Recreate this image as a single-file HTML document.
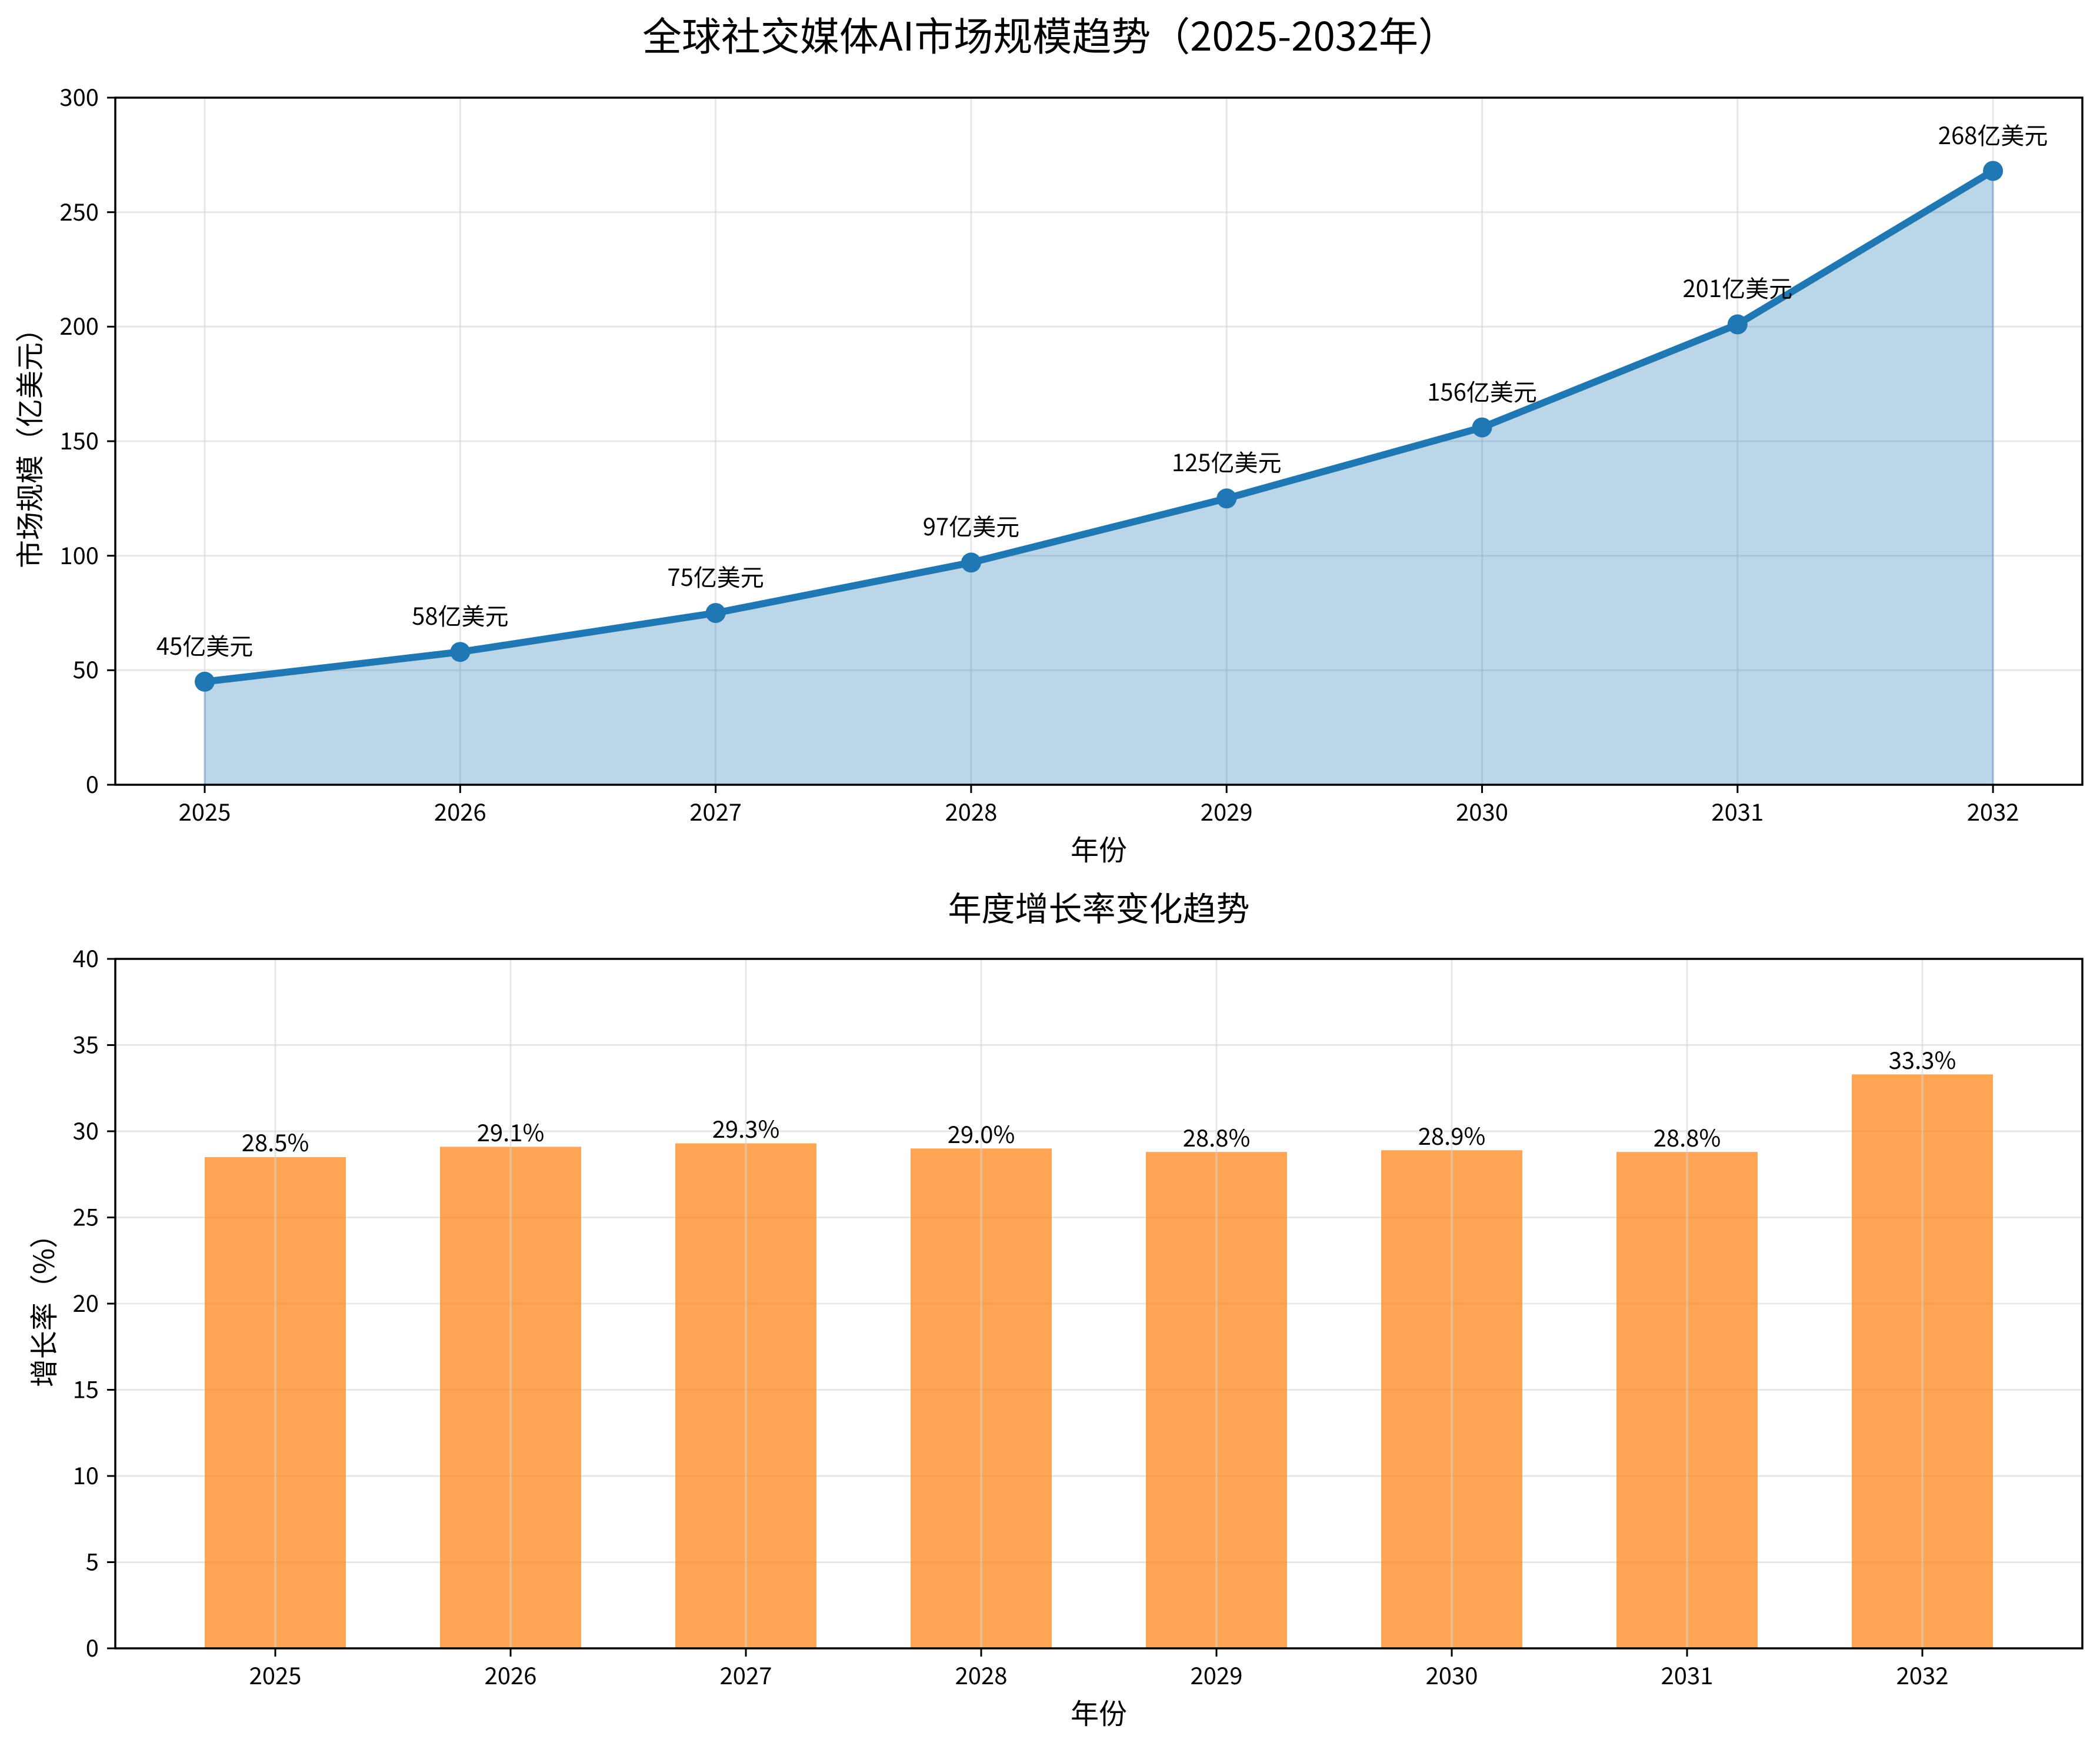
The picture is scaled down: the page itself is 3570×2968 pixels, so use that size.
<!DOCTYPE html>
<html><head><meta charset="utf-8"><style>
html,body{margin:0;padding:0;background:#fff}
svg{display:block}
text{font-family:"Noto Sans CJK SC","Liberation Sans",sans-serif;fill:#000}
</style></head><body>
<svg width="3570" height="2968" viewBox="0 0 3570 2968" xmlns="http://www.w3.org/2000/svg">
<rect width="3570" height="2968" fill="#fff"/>
<text x="1785" y="86" font-size="67" text-anchor="middle">全球社交媒体AI市场规模趋势（2025-2032年）</text>

<!-- TOP CHART -->
<g stroke="#d3d3d3" stroke-opacity="0.55" stroke-width="3">
<line x1="196" x2="3540" y1="1139.3" y2="1139.3"/>
<line x1="196" x2="3540" y1="944.7" y2="944.7"/>
<line x1="196" x2="3540" y1="750" y2="750"/>
<line x1="196" x2="3540" y1="555.3" y2="555.3"/>
<line x1="196" x2="3540" y1="360.7" y2="360.7"/>
<line x1="348" x2="348" y1="166" y2="1334"/>
<line x1="782.3" x2="782.3" y1="166" y2="1334"/>
<line x1="1216.6" x2="1216.6" y1="166" y2="1334"/>
<line x1="1650.9" x2="1650.9" y1="166" y2="1334"/>
<line x1="2085.2" x2="2085.2" y1="166" y2="1334"/>
<line x1="2519.5" x2="2519.5" y1="166" y2="1334"/>
<line x1="2953.8" x2="2953.8" y1="166" y2="1334"/>
<line x1="3388.1" x2="3388.1" y1="166" y2="1334"/>
</g>
<polygon points="348,1334 348,1158.8 782.3,1108.2 1216.6,1042 1650.9,956.3 2085.2,847.3 2519.5,726.6 2953.8,551.4 3388.1,290.5 3388.1,1334" fill="#1f77b4" fill-opacity="0.3" stroke="#1f77b4" stroke-opacity="0.3" stroke-width="3"/>
<polyline points="348,1158.8 782.3,1108.2 1216.6,1042 1650.9,956.3 2085.2,847.3 2519.5,726.6 2953.8,551.4 3388.1,290.5" fill="none" stroke="#1f77b4" stroke-width="12" stroke-linejoin="round" stroke-linecap="round"/>
<g fill="#1f77b4">
<circle cx="348" cy="1158.8" r="17"/><circle cx="782.3" cy="1108.2" r="17"/><circle cx="1216.6" cy="1042" r="17"/><circle cx="1650.9" cy="956.3" r="17"/><circle cx="2085.2" cy="847.3" r="17"/><circle cx="2519.5" cy="726.6" r="17"/><circle cx="2953.8" cy="551.4" r="17"/><circle cx="3388.1" cy="290.5" r="17"/>
</g>
<g font-size="40" text-anchor="middle">
<text x="348" y="1113">45亿美元</text>
<text x="782.3" y="1062">58亿美元</text>
<text x="1216.6" y="996">75亿美元</text>
<text x="1650.9" y="910">97亿美元</text>
<text x="2085.2" y="801">125亿美元</text>
<text x="2519.5" y="681">156亿美元</text>
<text x="2953.8" y="505">201亿美元</text>
<text x="3388.1" y="245">268亿美元</text>
</g>
<rect x="196" y="166" width="3344" height="1168" fill="none" stroke="#000" stroke-width="3.5"/>
<g stroke="#000" stroke-width="3">
<line x1="182" x2="196" y1="1334" y2="1334"/><line x1="182" x2="196" y1="1139.3" y2="1139.3"/><line x1="182" x2="196" y1="944.7" y2="944.7"/><line x1="182" x2="196" y1="750" y2="750"/><line x1="182" x2="196" y1="555.3" y2="555.3"/><line x1="182" x2="196" y1="360.7" y2="360.7"/><line x1="182" x2="196" y1="166" y2="166"/>
<line x1="348" x2="348" y1="1334" y2="1348"/><line x1="782.3" x2="782.3" y1="1334" y2="1348"/><line x1="1216.6" x2="1216.6" y1="1334" y2="1348"/><line x1="1650.9" x2="1650.9" y1="1334" y2="1348"/><line x1="2085.2" x2="2085.2" y1="1334" y2="1348"/><line x1="2519.5" x2="2519.5" y1="1334" y2="1348"/><line x1="2953.8" x2="2953.8" y1="1334" y2="1348"/><line x1="3388.1" x2="3388.1" y1="1334" y2="1348"/>
</g>
<g font-size="40" text-anchor="end">
<text x="168" y="1348">0</text><text x="168" y="1153">50</text><text x="168" y="959">100</text><text x="168" y="764">150</text><text x="168" y="569">200</text><text x="168" y="375">250</text><text x="168" y="180">300</text>
</g>
<g font-size="40" text-anchor="middle">
<text x="348" y="1395">2025</text><text x="782.3" y="1395">2026</text><text x="1216.6" y="1395">2027</text><text x="1650.9" y="1395">2028</text><text x="2085.2" y="1395">2029</text><text x="2519.5" y="1395">2030</text><text x="2953.8" y="1395">2031</text><text x="3388.1" y="1395">2032</text>
</g>
<text x="1868" y="1462" font-size="48" text-anchor="middle">年份</text>
<text transform="translate(68,750) rotate(-90)" font-size="48" text-anchor="middle">市场规模（亿美元）</text>

<!-- BOTTOM CHART -->
<text x="1868" y="1565" font-size="57" text-anchor="middle">年度增长率变化趋势</text>
<g stroke="#d3d3d3" stroke-opacity="0.55" stroke-width="3">
<line x1="196" x2="3540" y1="2655.5" y2="2655.5"/><line x1="196" x2="3540" y1="2509" y2="2509"/><line x1="196" x2="3540" y1="2362.5" y2="2362.5"/><line x1="196" x2="3540" y1="2216" y2="2216"/><line x1="196" x2="3540" y1="2069.5" y2="2069.5"/><line x1="196" x2="3540" y1="1923" y2="1923"/><line x1="196" x2="3540" y1="1776.5" y2="1776.5"/>
</g>
<g fill="#ff7f0e" fill-opacity="0.7">
<rect x="348" y="1966.9" width="240" height="835.1"/>
<rect x="748" y="1949.4" width="240" height="852.6"/>
<rect x="1148" y="1943.5" width="240" height="858.5"/>
<rect x="1548" y="1952.3" width="240" height="849.7"/>
<rect x="1948" y="1958.2" width="240" height="843.8"/>
<rect x="2348" y="1955.2" width="240" height="846.8"/>
<rect x="2748" y="1958.2" width="240" height="843.8"/>
<rect x="3148" y="1826.3" width="240" height="975.7"/>
</g>
<g stroke="#d3d3d3" stroke-opacity="0.55" stroke-width="3">
<line x1="468" x2="468" y1="1630" y2="2802"/><line x1="868" x2="868" y1="1630" y2="2802"/><line x1="1268" x2="1268" y1="1630" y2="2802"/><line x1="1668" x2="1668" y1="1630" y2="2802"/><line x1="2068" x2="2068" y1="1630" y2="2802"/><line x1="2468" x2="2468" y1="1630" y2="2802"/><line x1="2868" x2="2868" y1="1630" y2="2802"/><line x1="3268" x2="3268" y1="1630" y2="2802"/>
</g>
<g font-size="40" text-anchor="middle">
<text x="468" y="1957">28.5%</text>
<text x="868" y="1940">29.1%</text>
<text x="1268" y="1934">29.3%</text>
<text x="1668" y="1943">29.0%</text>
<text x="2068" y="1949">28.8%</text>
<text x="2468" y="1946">28.9%</text>
<text x="2868" y="1949">28.8%</text>
<text x="3268" y="1817">33.3%</text>
</g>
<rect x="196" y="1630" width="3344" height="1172" fill="none" stroke="#000" stroke-width="3.5"/>
<g stroke="#000" stroke-width="3">
<line x1="182" x2="196" y1="2802" y2="2802"/><line x1="182" x2="196" y1="2655.5" y2="2655.5"/><line x1="182" x2="196" y1="2509" y2="2509"/><line x1="182" x2="196" y1="2362.5" y2="2362.5"/><line x1="182" x2="196" y1="2216" y2="2216"/><line x1="182" x2="196" y1="2069.5" y2="2069.5"/><line x1="182" x2="196" y1="1923" y2="1923"/><line x1="182" x2="196" y1="1776.5" y2="1776.5"/><line x1="182" x2="196" y1="1630" y2="1630"/>
<line x1="468" x2="468" y1="2802" y2="2816"/><line x1="868" x2="868" y1="2802" y2="2816"/><line x1="1268" x2="1268" y1="2802" y2="2816"/><line x1="1668" x2="1668" y1="2802" y2="2816"/><line x1="2068" x2="2068" y1="2802" y2="2816"/><line x1="2468" x2="2468" y1="2802" y2="2816"/><line x1="2868" x2="2868" y1="2802" y2="2816"/><line x1="3268" x2="3268" y1="2802" y2="2816"/>
</g>
<g font-size="40" text-anchor="end">
<text x="168" y="2816">0</text><text x="168" y="2669.5">5</text><text x="168" y="2523">10</text><text x="168" y="2376.5">15</text><text x="168" y="2230">20</text><text x="168" y="2083.5">25</text><text x="168" y="1937">30</text><text x="168" y="1790.5">35</text><text x="168" y="1644">40</text>
</g>
<g font-size="40" text-anchor="middle">
<text x="468" y="2863">2025</text><text x="868" y="2863">2026</text><text x="1268" y="2863">2027</text><text x="1668" y="2863">2028</text><text x="2068" y="2863">2029</text><text x="2468" y="2863">2030</text><text x="2868" y="2863">2031</text><text x="3268" y="2863">2032</text>
</g>
<text x="1868" y="2930" font-size="48" text-anchor="middle">年份</text>
<text transform="translate(92,2216) rotate(-90)" font-size="48" text-anchor="middle">增长率（%）</text>
</svg>
</body></html>
